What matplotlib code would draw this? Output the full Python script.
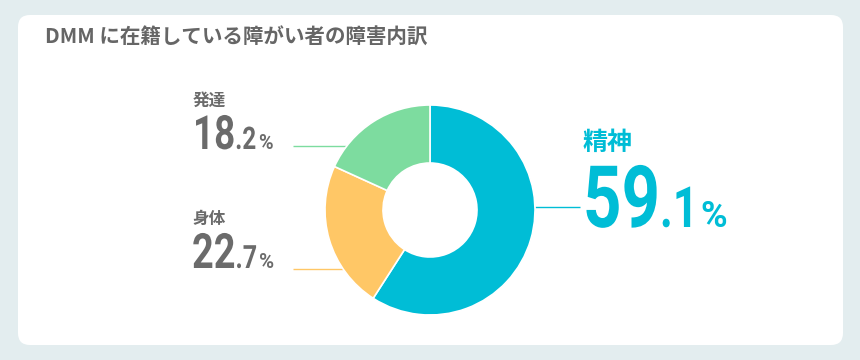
import matplotlib
matplotlib.use("Agg")
import matplotlib.pyplot as plt
from matplotlib.patches import FancyBboxPatch
from matplotlib.patheffects import AbstractPathEffect
from matplotlib.transforms import Affine2D, Bbox
from matplotlib.text import Text
import numpy as np

plt.rcParams["font.family"] = ["Noto Sans CJK JP", "DejaVu Sans"]

# data
title = "DMM に在籍している障がい者の障害内訳"
categories = ["精神", "身体", "発達"]
shares = [59.1, 22.7, 18.2]
colors = ["#00bdd6", "#ffc766", "#7ddc9f"]

GRAY = "#6b6b6b"
NUM_FONT = ["Roboto", "DejaVu Sans"]
SQUEEZE = 0.78
W, H = 860, 360


def py(y):
    # pixel row (from top) -> data y
    return H - y


class Condense(AbstractPathEffect):
    # narrow the glyphs horizontally around the text origin
    def __init__(self, sx):
        super().__init__()
        self.sx = sx

    def draw_path(self, renderer, gc, tpath, affine, rgbFace=None):
        renderer.draw_path(gc, tpath, Affine2D().scale(self.sx, 1) + affine, rgbFace)


class NarrowText(Text):
    # left-aligned text drawn condensed, with a matching extent
    def __init__(self, *args, sx=1.0, **kwargs):
        super().__init__(*args, **kwargs)
        self.sx = sx
        if sx != 1.0:
            self.set_path_effects([Condense(sx)])

    def get_window_extent(self, renderer=None, dpi=None):
        bb = super().get_window_extent(renderer, dpi)
        return Bbox.from_extents(bb.x0, bb.y0, bb.x0 + bb.width * self.sx, bb.y1)


fig = plt.figure(figsize=(W / 100, H / 100), dpi=100)
fig.patch.set_facecolor("#e3edef")
ax = fig.add_axes([0, 0, 1, 1])

# donut
cx, cy, r_out, r_in = 430, 210, 105, 47
ax.pie(shares, colors=colors, startangle=90, counterclock=False,
       center=(cx, py(cy)), radius=r_out, frame=True,
       wedgeprops=dict(width=r_out - r_in, edgecolor="white", linewidth=1.2))
ax.set_xlim(0, W)
ax.set_ylim(0, H)
ax.axis("off")

# white card
card = FancyBboxPatch((18, py(345)), 825, 330,
                      boxstyle="round,pad=0,rounding_size=12",
                      facecolor="white", edgecolor="none", zorder=0)
ax.add_patch(card)

ax.text(45, py(37), title, fontsize=14.8, fontweight="bold", color="#666666",
        va="center", ha="left")


def edge_x(y, side):
    dy = y - cy
    return cx + side * np.sqrt(r_out ** 2 - dy ** 2)


# label layout per category
layout = {
    "精神": dict(x=583, ly=143, base=227, line=207, lend=580, side=1,
                 lab=18, big=62, color=colors[0]),
    "身体": dict(x=192, ly=219, base=268, line=269, lend=293, side=-1,
                 lab=12, big=35, color=GRAY),
    "発達": dict(x=193, ly=101, base=149, line=146, lend=293, side=-1,
                 lab=12, big=34, color=GRAY),
}

renderer = fig.canvas.get_renderer()


def number_label(x, base, value, size, color):
    whole, frac = f"{value:.1f}".split(".")
    parts = [(whole, size, 0, SQUEEZE),
             ("." + frac, size * 0.66, 0, SQUEEZE),
             ("%", size * 0.42, 2, 1.0)]
    cur = x
    for s, fs, gap, sx in parts:
        cur += gap
        t = NarrowText(cur, py(base), s, sx=sx, fontsize=fs, fontweight="bold",
                       family=NUM_FONT, color=color, ha="left", va="baseline")
        ax.add_artist(t)
        cur += t.get_window_extent(renderer).width


for cat, val, col in zip(categories, shares, colors):
    L = layout[cat]
    ax.text(L["x"], py(L["ly"]), cat, fontsize=L["lab"], fontweight="bold",
            color=L["color"], ha="left", va="center")
    number_label(L["x"], L["base"], val, L["big"], L["color"])
    x0 = edge_x(L["line"], L["side"])
    ax.plot([x0, L["lend"]], [py(L["line"]), py(L["line"])], color=col,
            linewidth=1, solid_capstyle="butt", zorder=0.5)

fig.savefig("out.png", dpi=100, facecolor=fig.get_facecolor())
